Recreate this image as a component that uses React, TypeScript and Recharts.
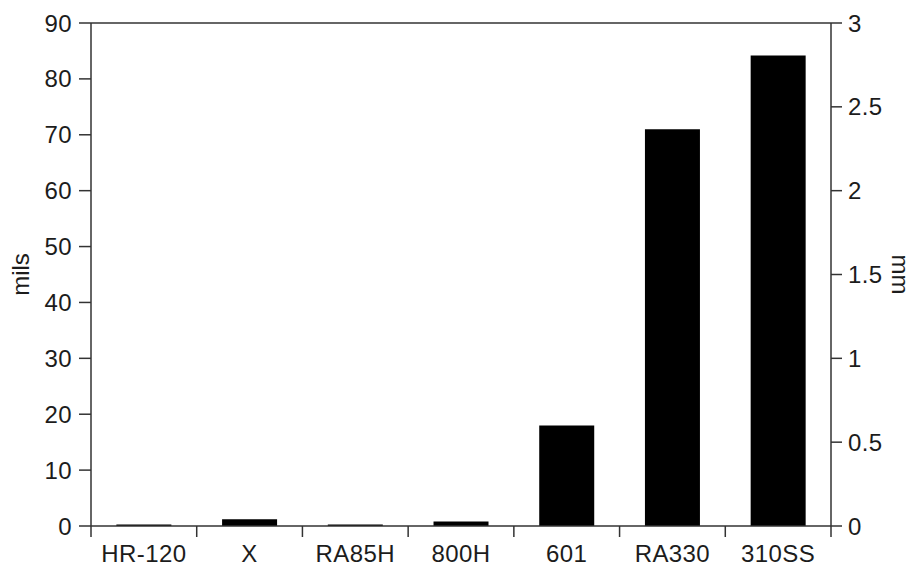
import React from "react";
import {
  BarChart,
  Bar,
  XAxis,
  YAxis,
  ReferenceLine,
} from "recharts";

const alloys = ["HR-120", "X", "RA85H", "800H", "601", "RA330", "310SS"];
const mils = [0.25, 1.2, 0.25, 0.8, 18, 71, 84.2];
const milTicks = [0, 10, 20, 30, 40, 50, 60, 70, 80, 90];
const mmTicks = [0, 0.5, 1, 1.5, 2, 2.5, 3];
const slotTicks = [0, 0.5, 1, 1.5, 2, 2.5, 3, 3.5, 4, 4.5, 5, 5.5, 6, 6.5, 7];

const data = alloys.map((name, i) => ({ name, pos: i + 0.5, mils: mils[i] }));

const FONT = "'Liberation Sans', Arial, sans-serif";
const INK = "#1c1c1c";
const AXIS = "#333";
const FS = 24;

const tickStyle = { fontSize: FS, fill: INK, fontFamily: FONT, letterSpacing: 0.4 };

// bottom axis: lines at slot edges, alloy names in slot centres
function SlotTick(props: any) {
  const { x, y, payload } = props;
  const v = payload.value as number;
  if (Number.isInteger(v)) {
    return <line x1={x} y1={y} x2={x} y2={y + 11} stroke={AXIS} strokeWidth={1.5} />;
  }
  return (
    <text
      x={x}
      y={y + 36}
      textAnchor="middle"
      fontSize={FS}
      letterSpacing={0.4}
      fill={INK}
      fontFamily={FONT}
    >
      {alloys[Math.floor(v)]}
    </text>
  );
}

export default function App() {
  return (
    <div style={{ position: "absolute", left: 0, top: 0, background: "#fff" }}>
      <BarChart
        width={913}
        height={566}
        data={data}
        margin={{ top: 23, right: 0, left: 0, bottom: 0 }}
        barCategoryGap="24%"
      >
        <XAxis xAxisId="cat" dataKey="name" hide height={0} />
        <XAxis
          xAxisId="slot"
          type="number"
          dataKey="pos"
          domain={[0, 7]}
          allowDataOverflow
          ticks={slotTicks}
          interval={0}
          tickLine={false}
          tickSize={0}
          tickMargin={0}
          height={40}
          axisLine={{ stroke: AXIS, strokeWidth: 1.5 }}
          tick={<SlotTick />}
        />
        <YAxis
          yAxisId="left"
          domain={[0, 90]}
          allowDataOverflow
          ticks={milTicks}
          interval={0}
          width={91}
          tickSize={12}
          tickMargin={7}
          tick={tickStyle}
          tickLine={{ stroke: AXIS, strokeWidth: 1.5 }}
          axisLine={{ stroke: AXIS, strokeWidth: 1.5 }}
          label={{
            content: ({ viewBox }: any) => (
              <text
                x={20}
                y={viewBox.y + viewBox.height / 2}
                transform={`rotate(-90 20 ${viewBox.y + viewBox.height / 2})`}
                textAnchor="middle"
                dominantBaseline="central"
                fontSize={FS}
                fill={INK}
                fontFamily={FONT}
              >
                mils
              </text>
            ),
          }}
        />
        <YAxis
          yAxisId="right"
          orientation="right"
          type="number"
          domain={[0, 3]}
          allowDataOverflow
          ticks={mmTicks}
          interval={0}
          width={82}
          tickSize={11}
          tickMargin={6}
          tick={tickStyle}
          tickLine={{ stroke: AXIS, strokeWidth: 1.5 }}
          axisLine={{ stroke: AXIS, strokeWidth: 1.5 }}
          label={{
            content: ({ viewBox }: any) => (
              <text
                x={900}
                y={viewBox.y + viewBox.height / 2}
                transform={`rotate(90 900 ${viewBox.y + viewBox.height / 2})`}
                textAnchor="middle"
                dominantBaseline="central"
                fontSize={FS}
                fill={INK}
                fontFamily={FONT}
              >
                mm
              </text>
            ),
          }}
        />
        <ReferenceLine yAxisId="left" xAxisId="cat" y={90} stroke={AXIS} strokeWidth={1.5} />
        <ReferenceLine yAxisId="right" xAxisId="cat" y={0} stroke="none" />
        <Bar
          xAxisId="cat"
          yAxisId="left"
          dataKey="mils"
          fill="#000"
          isAnimationActive={false}
        />
      </BarChart>
    </div>
  );
}
